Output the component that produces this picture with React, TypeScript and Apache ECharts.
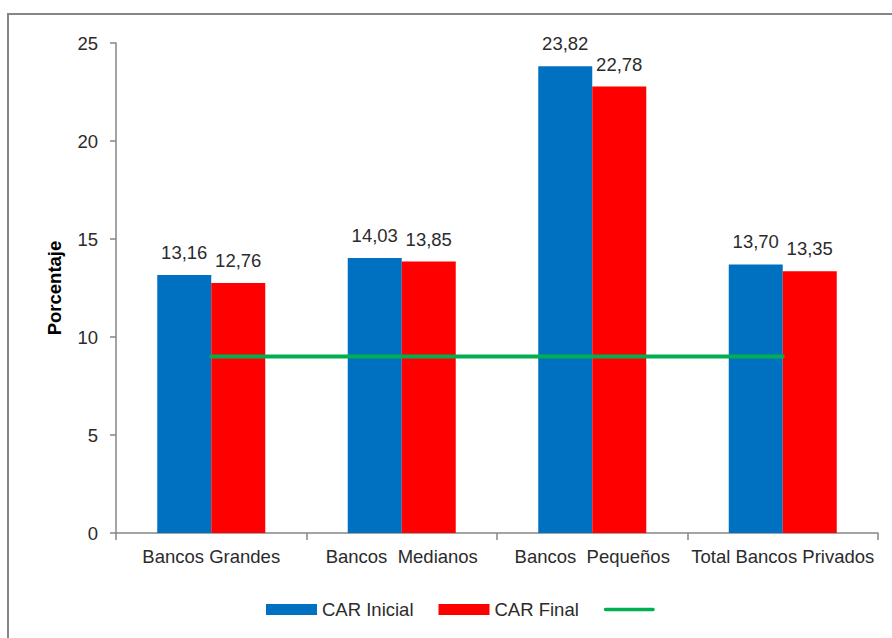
import React, { useEffect, useRef } from "react";
import * as echarts from "echarts";

const categories = ["Bancos Grandes", "Bancos  Medianos", "Bancos  Pequeños", "Total Bancos Privados"];
const carInicial = [13.16, 14.03, 23.82, 13.7];
const carFinal = [12.76, 13.85, 22.78, 13.35];
const limite = [9, 9, 9, 9];
const yTicks = { min: 0, max: 25, interval: 5 };

const FONT = "Liberation Sans";
const TXT = "#2b2b2b";
const AXIS = "#868686";

const fmt = (v: number) => v.toFixed(2).replace(".", ",");

export default function App() {
  const ref = useRef<HTMLDivElement>(null);
  useEffect(() => {
    if (!ref.current) return;
    const chart = echarts.init(ref.current, undefined, { renderer: "svg" });
    chart.setOption({
      animation: false,
      backgroundColor: "#ffffff",
      textStyle: { fontFamily: FONT },
      graphic: [
        {
          type: "rect",
          shape: { x: 8, y: 14, width: 900, height: 700 },
          style: { fill: "none", stroke: AXIS, lineWidth: 2 },
          z: -10,
        },
      ],
      grid: { left: 116, top: 43, right: 14, bottom: 105, containLabel: false },
      legend: {
        left: 266,
        top: 600,
        padding: 0,
        itemWidth: 51,
        itemHeight: 11,
        itemGap: 25,
        textStyle: { fontFamily: FONT, fontSize: 18.5, color: TXT },
        formatter: (name: string) => (name === "Mínimo" ? "" : name),
        data: [
          { name: "CAR Inicial", icon: "rect" },
          { name: "CAR Final", icon: "rect" },
          {
            name: "Mínimo",
            icon: "path://M2,0 L54,0 A2,2 0 0 1 54,4 L2,4 A2,2 0 0 1 2,0 Z",
            itemStyle: { color: "#00B050" },
          },
        ],
      },
      xAxis: {
        type: "category",
        data: categories,
        axisLine: { lineStyle: { color: AXIS, width: 1.5 } },
        axisTick: { show: true, length: 7, lineStyle: { color: AXIS, width: 1.5 } },
        axisLabel: { fontFamily: FONT, fontSize: 18.5, color: TXT, margin: 14, interval: 0 },
      },
      yAxis: {
        type: "value",
        min: yTicks.min,
        max: yTicks.max,
        interval: yTicks.interval,
        name: "Porcentaje",
        nameLocation: "middle",
        nameGap: 52,
        nameTextStyle: { fontFamily: FONT, fontSize: 18.5, fontWeight: "bold", color: "#000000" },
        axisLine: { show: true, lineStyle: { color: AXIS, width: 1.5 } },
        axisTick: { show: true, length: 6, lineStyle: { color: AXIS, width: 1.5 } },
        axisLabel: { fontFamily: FONT, fontSize: 18.5, color: TXT, margin: 18 },
        splitLine: { show: false },
      },
      series: [
        {
          name: "CAR Inicial",
          type: "bar",
          data: carInicial,
          barWidth: 54,
          barGap: "0%",
          itemStyle: { color: "#0070C0" },
          label: {
            show: true,
            position: "top",
            distance: 13,
            fontFamily: FONT,
            fontSize: 18.5,
            color: TXT,
            formatter: (p: any) => fmt(p.value),
          },
        },
        {
          name: "CAR Final",
          type: "bar",
          data: carFinal,
          barWidth: 54,
          barGap: "0%",
          itemStyle: { color: "#FF0000" },
          label: {
            show: true,
            position: "top",
            distance: 13,
            fontFamily: FONT,
            fontSize: 18.5,
            color: TXT,
            formatter: (p: any) => fmt(p.value),
          },
        },
        {
          name: "Mínimo",
          type: "line",
          data: limite,
          symbol: "none",
          lineStyle: { color: "#00B050", width: 4, cap: "round" },
          itemStyle: { color: "#00B050" },
          z: 5,
        },
      ],
    });
    return () => chart.dispose();
  }, []);
  return (
    <div
      ref={ref}
      style={{ position: "fixed", left: 0, top: 0, width: 892, height: 638, background: "#fff" }}
    />
  );
}
